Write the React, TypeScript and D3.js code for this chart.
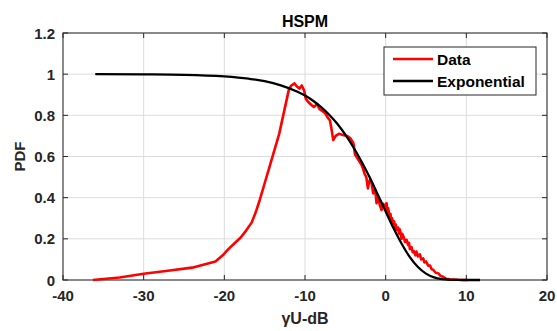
import React from "react";
import * as d3 from "d3";

const W = 557;
const H = 331;

const xTicks = [-40, -30, -20, -10, 0, 10, 20];
const yTicks = [0, 0.2, 0.4, 0.6, 0.8, 1, 1.2];
const yTickLabels = ["0", "0.2", "0.4", "0.6", "0.8", "1", "1.2"];

const titleText = "HSPM";
const xLabel = "γU-dB";
const yLabel = "PDF";
const seriesNames = ["Data", "Exponential"];

// Exponential fit
const expX = [-36, -30, -25, -20, -17, -15, -13, -11, -10, -9, -8, -7, -6, -5, -4, -3, -2, -1, 0, 1, 2, 3, 4, 5, 6, 7, 8, 9, 10, 11.7];
const expY = [1.0, 0.999, 0.997, 0.989, 0.978, 0.966, 0.946, 0.916, 0.896, 0.871, 0.84, 0.803, 0.759, 0.706, 0.645, 0.576, 0.5, 0.417, 0.333, 0.25, 0.175, 0.111, 0.063, 0.031, 0.0125, 0.004, 0.001, 0.0002, 0, 0];

// Data series
const dataX = [
  -36.3, -33, -30, -27, -24, -21.1, -20.2, -19.5, -18.7, -18, -17.3, -16.6, -16.1, -15.6, -15.0, -14.4, -13.2, -12.0,
  -11.7, -11.3, -11.0, -10.7, -10.4, -10.1, -9.9, -9.6, -9.2, -8.9, -8.5, -8.2, -7.8, -7.5, -7.2, -6.9, -6.7, -6.5,
  -6.2, -5.8, -5.3, -4.8, -4.4, -4.0, -3.8, -3.4, -3.0, -2.8, -2.6, -2.4, -2.2, -2.1, -1.96, -1.75, -1.55, -1.3, -1.13, -0.93,
  -0.7, -0.51, -0.3, -0.1, 0.11, 0.2, 0.3, 0.52, 0.6, 0.7, 0.8, 0.93, 1.05, 1.15, 1.25, 1.35, 1.55, 1.65, 1.76, 1.97,
  2.05, 2.17, 2.3, 2.4, 2.6, 2.79, 2.9, 3.0, 3.2, 3.35, 3.5, 3.7, 3.82, 4.0, 4.24, 4.4, 4.65, 4.8, 5.0, 5.27, 5.5, 5.7,
  5.89, 6.2, 6.5, 6.8, 7.13, 7.5, 7.96, 9.0, 10.1
];
const dataY = [
  0, 0.012, 0.03, 0.045, 0.06, 0.09, 0.12, 0.15, 0.18, 0.205, 0.24, 0.28, 0.33, 0.39, 0.47, 0.55, 0.71, 0.925,
  0.945, 0.955, 0.94, 0.93, 0.945, 0.92, 0.88, 0.865, 0.85, 0.84, 0.855, 0.83, 0.82, 0.81, 0.79, 0.775, 0.73, 0.68,
  0.7, 0.71, 0.705, 0.7, 0.69, 0.665, 0.61, 0.585, 0.56, 0.54, 0.515, 0.5, 0.445, 0.47, 0.486, 0.47, 0.421, 0.44, 0.373, 0.405,
  0.36, 0.34, 0.37, 0.35, 0.373, 0.33, 0.35, 0.3, 0.32, 0.28, 0.3, 0.275, 0.285, 0.25, 0.27, 0.243, 0.255, 0.225, 0.245, 0.2,
  0.225, 0.215, 0.2, 0.185, 0.195, 0.17, 0.18, 0.15, 0.16, 0.135, 0.14, 0.12, 0.138, 0.115, 0.125, 0.1, 0.105, 0.085, 0.09, 0.07, 0.07, 0.052,
  0.05, 0.035, 0.033, 0.02, 0.016, 0.006, 0.003, 0.001, 0
];

const M = { left: 63, right: 547, top: 33, bottom: 280 };

export default function App() {
  const x = d3.scaleLinear().domain([-40, 20]).range([M.left, M.right]);
  const y = d3.scaleLinear().domain([0, 1.2]).range([M.bottom, M.top]);

  const expPts: [number, number][] = expX.map((v, i) => [v, expY[i]]);
  const dataPts: [number, number][] = dataX.map((v, i) => [v, dataY[i]]);

  const smooth = d3
    .line<[number, number]>()
    .x((d) => x(d[0]))
    .y((d) => y(d[1]))
    .curve(d3.curveMonotoneX);
  const jag = d3
    .line<[number, number]>()
    .x((d) => x(d[0]))
    .y((d) => y(d[1]));

  const axisColor = "#262626";
  const gridColor = "#dcdcdc";
  const font = "'Liberation Sans', Arial, Helvetica, sans-serif";

  const lg = { x0: 384, y0: 47, x1: 536, y1: 95 };

  return (
    <svg
      width={W}
      height={H}
      style={{ position: "absolute", left: 0, top: 0, background: "#fff" }}
      fontFamily={font}
    >
      <rect x={0} y={0} width={W} height={H} fill="#fff" />
      {xTicks.map((t) => (
        <line key={"gx" + t} x1={x(t)} x2={x(t)} y1={M.top} y2={M.bottom} stroke={gridColor} strokeWidth={1} />
      ))}
      {yTicks.map((t) => (
        <line key={"gy" + t} x1={M.left} x2={M.right} y1={y(t)} y2={y(t)} stroke={gridColor} strokeWidth={1} />
      ))}
      {xTicks.map((t) => (
        <g key={"tx" + t}>
          <line x1={x(t)} x2={x(t)} y1={M.bottom} y2={M.bottom - 5} stroke={axisColor} />
          <line x1={x(t)} x2={x(t)} y1={M.top} y2={M.top + 5} stroke={axisColor} />
          <text x={x(t)} y={M.bottom + 21} textAnchor="middle" fontSize={15} fontWeight="bold" fill={axisColor}>
            {t}
          </text>
        </g>
      ))}
      {yTicks.map((t, i) => (
        <g key={"ty" + t}>
          <line x1={M.left} x2={M.left + 5} y1={y(t)} y2={y(t)} stroke={axisColor} />
          <line x1={M.right} x2={M.right - 5} y1={y(t)} y2={y(t)} stroke={axisColor} />
          <text x={M.left - 8} y={y(t) + 5.5} textAnchor="end" fontSize={15} fontWeight="bold" fill={axisColor}>
            {yTickLabels[i]}
          </text>
        </g>
      ))}
      <rect
        x={M.left}
        y={M.top}
        width={M.right - M.left}
        height={M.bottom - M.top}
        fill="none"
        stroke={axisColor}
        strokeWidth={1}
      />
      <path d={jag(dataPts) || ""} fill="none" stroke="#ff0000" strokeWidth={2.6} strokeLinejoin="round" />
      <path d={smooth(expPts) || ""} fill="none" stroke="#000" strokeWidth={2.3} />
      <text x={(M.left + M.right) / 2} y={27} textAnchor="middle" fontSize={16} fontWeight="bold" fill="#000">
        {titleText}
      </text>
      <text x={(M.left + M.right) / 2} y={324} textAnchor="middle" fontSize={16} fontWeight="bold" fill={axisColor}>
        {xLabel}
      </text>
      <text
        transform={`translate(25, ${(M.top + M.bottom) / 2}) rotate(-90)`}
        textAnchor="middle"
        fontSize={15}
        fontWeight="bold"
        fill={axisColor}
      >
        {yLabel}
      </text>
      <rect x={lg.x0} y={lg.y0} width={lg.x1 - lg.x0} height={lg.y1 - lg.y0} fill="#fff" stroke={axisColor} strokeWidth={1} />
      <line x1={393} x2={433} y1={59} y2={59} stroke="#ff0000" strokeWidth={2.6} />
      <line x1={393} x2={433} y1={81} y2={81} stroke="#000" strokeWidth={2.6} />
      <text x={437} y={64.5} fontSize={15.5} fontWeight="bold" fill="#000">
        {seriesNames[0]}
      </text>
      <text x={437} y={86.5} fontSize={15.5} fontWeight="bold" fill="#000">
        {seriesNames[1]}
      </text>
    </svg>
  );
}
